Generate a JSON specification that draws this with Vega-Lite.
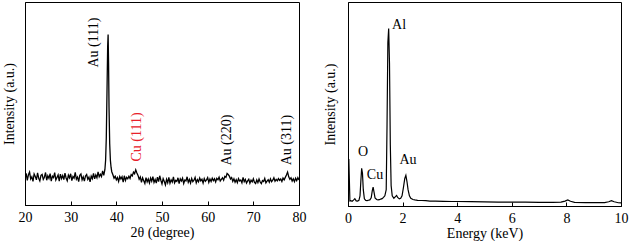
{
  "$schema": "https://vega.github.io/schema/vega-lite/v6.json",
  "padding": {"left": 1, "top": 1, "right": 0, "bottom": 0},
  "background": "white",
  "config": {
    "font": "Liberation Serif, Times New Roman, serif",
    "view": {"stroke": "black", "strokeWidth": 1},
    "axis": {"domainColor": "black", "tickColor": "black", "labelColor": "black", "titleColor": "black", "labelFont": "Liberation Serif, Times New Roman, serif", "titleFont": "Liberation Serif, Times New Roman, serif", "titleFontWeight": "normal", "labelFontSize": 14, "titleFontSize": 14, "grid": false}
  },
  "spacing": 15,
  "hconcat": [
    {
      "width": 274,
      "height": 203,
      "layer": [
        {
          "data": {"values": [
            {"x":20.00,"y":13.8},{"x":20.25,"y":15.6},{"x":20.50,"y":12.1},{"x":20.75,"y":14.9},{"x":21.00,"y":16.2},{"x":21.25,"y":12.8},{"x":21.50,"y":13.9},{"x":21.75,"y":11.6},{"x":22.00,"y":15.3},{"x":22.25,"y":14.1},{"x":22.50,"y":12.4},{"x":22.75,"y":15.8},{"x":23.00,"y":13.2},{"x":23.25,"y":11.9},{"x":23.50,"y":14.6},{"x":23.75,"y":15.1},{"x":24.00,"y":12.6},{"x":24.25,"y":13.7},{"x":24.50,"y":16.0},{"x":24.75,"y":12.2},{"x":25.00,"y":14.4},{"x":25.25,"y":13.1},{"x":25.50,"y":15.5},{"x":25.75,"y":11.8},{"x":26.00,"y":14.2},{"x":26.25,"y":13.5},{"x":26.50,"y":15.9},{"x":26.75,"y":12.3},{"x":27.00,"y":13.6},{"x":27.25,"y":14.8},{"x":27.50,"y":11.7},{"x":27.75,"y":15.2},{"x":28.00,"y":13.0},{"x":28.25,"y":14.5},{"x":28.50,"y":12.5},{"x":28.75,"y":15.7},{"x":29.00,"y":13.3},{"x":29.25,"y":11.9},{"x":29.50,"y":14.7},{"x":29.75,"y":13.4},{"x":30.00,"y":15.4},{"x":30.25,"y":12.0},{"x":30.50,"y":14.0},{"x":30.75,"y":13.2},{"x":31.00,"y":16.1},{"x":31.25,"y":12.7},{"x":31.50,"y":13.8},{"x":31.75,"y":11.5},{"x":32.00,"y":14.6},{"x":32.25,"y":15.3},{"x":32.50,"y":12.4},{"x":32.75,"y":13.9},{"x":33.00,"y":11.8},{"x":33.25,"y":14.3},{"x":33.50,"y":15.0},{"x":33.75,"y":12.6},{"x":34.00,"y":13.7},{"x":34.25,"y":11.4},{"x":34.50,"y":14.2},{"x":34.75,"y":13.0},{"x":35.00,"y":15.6},{"x":35.25,"y":12.9},{"x":35.50,"y":14.8},{"x":35.75,"y":13.4},{"x":36.00,"y":16.3},{"x":36.25,"y":13.9},{"x":36.50,"y":15.1},{"x":36.75,"y":14.0},{"x":37.00,"y":16.8},{"x":37.25,"y":14.6},{"x":37.50,"y":17.5},{"x":37.65,"y":22},{"x":37.80,"y":33},{"x":37.95,"y":55},{"x":38.10,"y":78},{"x":38.20,"y":84},{"x":38.30,"y":70},{"x":38.40,"y":48},{"x":38.55,"y":30},{"x":38.70,"y":22},{"x":38.85,"y":18.5},{"x":39.00,"y":16.4},{"x":39.25,"y":14.9},{"x":39.50,"y":13.2},{"x":39.75,"y":14.1},{"x":40.00,"y":12.4},{"x":40.25,"y":13.5},{"x":40.50,"y":11.6},{"x":40.75,"y":14.0},{"x":41.00,"y":12.8},{"x":41.25,"y":13.9},{"x":41.50,"y":11.3},{"x":41.75,"y":14.4},{"x":42.00,"y":12.1},{"x":42.25,"y":13.6},{"x":42.50,"y":12.9},{"x":42.75,"y":14.2},{"x":43.00,"y":13.1},{"x":43.25,"y":15.0},{"x":43.50,"y":14.3},{"x":43.75,"y":16.2},{"x":44.00,"y":15.4},{"x":44.25,"y":17.3},{"x":44.50,"y":15.8},{"x":44.75,"y":14.6},{"x":45.00,"y":12.7},{"x":45.25,"y":13.8},{"x":45.50,"y":11.2},{"x":45.75,"y":13.4},{"x":46.00,"y":12.0},{"x":46.25,"y":10.6},{"x":46.50,"y":13.5},{"x":46.75,"y":11.4},{"x":47.00,"y":12.8},{"x":47.25,"y":10.9},{"x":47.50,"y":13.3},{"x":47.75,"y":11.7},{"x":48.00,"y":14.0},{"x":48.25,"y":11.1},{"x":48.50,"y":12.6},{"x":48.75,"y":10.8},{"x":49.00,"y":13.7},{"x":49.25,"y":11.5},{"x":49.50,"y":14.4},{"x":49.75,"y":12.2},{"x":50.00,"y":10.4},{"x":50.25,"y":13.0},{"x":50.50,"y":11.6},{"x":50.75,"y":9.9},{"x":51.00,"y":12.7},{"x":51.25,"y":11.0},{"x":51.50,"y":13.6},{"x":51.75,"y":10.7},{"x":52.00,"y":12.4},{"x":52.25,"y":11.3},{"x":52.50,"y":13.8},{"x":52.75,"y":10.9},{"x":53.00,"y":12.1},{"x":53.25,"y":11.6},{"x":53.50,"y":13.4},{"x":53.75,"y":10.5},{"x":54.00,"y":12.9},{"x":54.25,"y":11.8},{"x":54.50,"y":13.2},{"x":54.75,"y":10.6},{"x":55.00,"y":12.3},{"x":55.25,"y":11.9},{"x":55.50,"y":13.9},{"x":55.75,"y":11.2},{"x":56.00,"y":12.6},{"x":56.25,"y":10.8},{"x":56.50,"y":13.1},{"x":56.75,"y":11.5},{"x":57.00,"y":12.2},{"x":57.25,"y":13.6},{"x":57.50,"y":10.9},{"x":57.75,"y":12.5},{"x":58.00,"y":11.4},{"x":58.25,"y":13.3},{"x":58.50,"y":11.9},{"x":58.75,"y":12.7},{"x":59.00,"y":10.8},{"x":59.25,"y":13.0},{"x":59.50,"y":11.7},{"x":59.75,"y":12.4},{"x":60.00,"y":13.5},{"x":60.25,"y":11.1},{"x":60.50,"y":12.8},{"x":60.75,"y":11.6},{"x":61.00,"y":13.2},{"x":61.25,"y":12.0},{"x":61.50,"y":12.9},{"x":61.75,"y":11.3},{"x":62.00,"y":13.1},{"x":62.25,"y":12.4},{"x":62.50,"y":13.7},{"x":62.75,"y":11.8},{"x":63.00,"y":12.6},{"x":63.25,"y":13.4},{"x":63.50,"y":12.2},{"x":63.75,"y":14.1},{"x":64.00,"y":13.6},{"x":64.25,"y":15.5},{"x":64.50,"y":15.0},{"x":64.75,"y":14.2},{"x":65.00,"y":12.8},{"x":65.25,"y":13.5},{"x":65.50,"y":11.6},{"x":65.75,"y":12.9},{"x":66.00,"y":11.2},{"x":66.25,"y":12.5},{"x":66.50,"y":11.0},{"x":66.75,"y":13.0},{"x":67.00,"y":11.8},{"x":67.25,"y":12.3},{"x":67.50,"y":10.9},{"x":67.75,"y":13.6},{"x":68.00,"y":11.5},{"x":68.25,"y":12.6},{"x":68.50,"y":10.8},{"x":68.75,"y":11.9},{"x":69.00,"y":12.7},{"x":69.25,"y":10.7},{"x":69.50,"y":12.2},{"x":69.75,"y":11.4},{"x":70.00,"y":12.9},{"x":70.25,"y":11.1},{"x":70.50,"y":10.6},{"x":70.75,"y":12.4},{"x":71.00,"y":11.0},{"x":71.25,"y":12.8},{"x":71.50,"y":11.3},{"x":71.75,"y":10.5},{"x":72.00,"y":12.0},{"x":72.25,"y":11.6},{"x":72.50,"y":13.1},{"x":72.75,"y":10.9},{"x":73.00,"y":11.8},{"x":73.25,"y":12.5},{"x":73.50,"y":11.2},{"x":73.75,"y":12.9},{"x":74.00,"y":11.5},{"x":74.25,"y":12.2},{"x":74.50,"y":13.4},{"x":74.75,"y":11.7},{"x":75.00,"y":12.6},{"x":75.25,"y":11.9},{"x":75.50,"y":13.0},{"x":75.75,"y":12.1},{"x":76.00,"y":12.8},{"x":76.25,"y":11.6},{"x":76.50,"y":13.3},{"x":76.75,"y":12.4},{"x":77.00,"y":13.6},{"x":77.25,"y":14.8},{"x":77.50,"y":16.2},{"x":77.75,"y":13.9},{"x":78.00,"y":12.7},{"x":78.25,"y":13.4},{"x":78.50,"y":11.8},{"x":78.75,"y":12.9},{"x":79.00,"y":11.5},{"x":79.25,"y":13.2},{"x":79.50,"y":12.0},{"x":79.75,"y":13.5},{"x":80.00,"y":12.3}
          ]},
          "mark": {"type": "line", "color": "black", "strokeWidth": 1.3, "clip": true},
          "encoding": {
            "x": {"field": "x", "type": "quantitative", "scale": {"domain": [20, 80], "nice": false, "zero": false},
              "axis": {"title": "2θ (degree)", "titleFontWeight": "normal", "values": [20,25,30,35,40,45,50,55,60,65,70,75,80], "labelExpr": "datum.value % 10 === 0 ? datum.label : ''",
                "tickSize": {"condition": {"test": "datum.value % 10 === 0", "value": -4}, "value": -2}, "labelPadding": 9, "titlePadding": 1, "labelFlush": false}},
            "y": {"field": "y", "type": "quantitative", "scale": {"domain": [0, 100], "nice": false},
              "axis": {"title": "Intensity (a.u.)", "titleFontWeight": "normal", "labels": false, "ticks": false, "titlePadding": 9}}
          }
        },
        {
          "data": {"values": [
            {"x": 35.1, "y": 80, "t": "Au (111)", "el": "Au"},
            {"x": 44.5, "y": 33.5, "t": "Cu (111)", "el": "Cu"},
            {"x": 64.2, "y": 32, "t": "Au (220)", "el": "Au"},
            {"x": 77.4, "y": 32, "t": "Au (311)", "el": "Au"}
          ]},
          "mark": {"type": "text", "angle": 270, "fontSize": 14, "font": "Liberation Serif, Times New Roman, serif", "align": "center", "baseline": "middle"},
          "encoding": {
            "x": {"field": "x", "type": "quantitative"},
            "y": {"field": "y", "type": "quantitative"},
            "text": {"field": "t"},
            "color": {"field": "el", "type": "nominal", "scale": {"domain": ["Au", "Cu"], "range": ["black", "#e8202a"]}, "legend": null}
          }
        }
      ]
    },
    {
      "width": 273,
      "height": 204,
      "layer": [
        {
          "data": {"values": [
            {"e":0.00,"c":2.0},{"e":0.03,"c":23},{"e":0.07,"c":2.5},{"e":0.10,"c":2.6},{"e":0.15,"c":2.3},{"e":0.20,"c":2.9},{"e":0.25,"c":3.6},{"e":0.30,"c":2.5},{"e":0.35,"c":2.4},{"e":0.40,"c":2.8},{"e":0.44,"c":5},{"e":0.47,"c":12},{"e":0.50,"c":18.5},{"e":0.53,"c":16},{"e":0.56,"c":8},{"e":0.60,"c":3.5},{"e":0.65,"c":2.7},{"e":0.70,"c":2.6},{"e":0.75,"c":2.8},{"e":0.80,"c":3.0},{"e":0.85,"c":4.0},{"e":0.89,"c":7.5},{"e":0.92,"c":9.2},{"e":0.95,"c":7},{"e":0.99,"c":4},{"e":1.05,"c":3.2},{"e":1.10,"c":3.0},{"e":1.15,"c":3.1},{"e":1.20,"c":3.4},{"e":1.25,"c":3.6},{"e":1.30,"c":4.2},{"e":1.35,"c":5},{"e":1.40,"c":8},{"e":1.43,"c":40},{"e":1.46,"c":80},{"e":1.49,"c":87},{"e":1.52,"c":70},{"e":1.55,"c":30},{"e":1.58,"c":10},{"e":1.62,"c":5},{"e":1.68,"c":3.8},{"e":1.73,"c":4.5},{"e":1.78,"c":5.2},{"e":1.82,"c":4.2},{"e":1.88,"c":3.5},{"e":1.93,"c":3.8},{"e":1.98,"c":5},{"e":2.03,"c":9},{"e":2.08,"c":13.5},{"e":2.12,"c":15},{"e":2.16,"c":12},{"e":2.20,"c":8},{"e":2.25,"c":5},{"e":2.30,"c":3.8},{"e":2.38,"c":3.2},{"e":2.45,"c":3.0},{"e":2.55,"c":2.8},{"e":2.70,"c":2.7},{"e":2.85,"c":2.6},{"e":3.0,"c":2.4},{"e":3.2,"c":2.4},{"e":3.5,"c":2.3},{"e":3.8,"c":2.2},{"e":4.0,"c":2.2},{"e":4.5,"c":2.1},{"e":5.0,"c":2.0},{"e":5.5,"c":1.9},{"e":6.0,"c":1.9},{"e":6.5,"c":1.9},{"e":7.0,"c":1.8},{"e":7.5,"c":1.8},{"e":7.8,"c":1.9},{"e":7.95,"c":2.4},{"e":8.05,"c":3.0},{"e":8.15,"c":2.3},{"e":8.3,"c":1.8},{"e":8.7,"c":1.7},{"e":9.0,"c":1.7},{"e":9.4,"c":1.7},{"e":9.55,"c":2.1},{"e":9.65,"c":2.6},{"e":9.75,"c":2.1},{"e":9.9,"c":1.6},{"e":10.0,"c":1.5}
          ]},
          "mark": {"type": "line", "color": "black", "strokeWidth": 1.2, "clip": true},
          "encoding": {
            "x": {"field": "e", "type": "quantitative", "scale": {"domain": [0, 10], "nice": false},
              "axis": {"title": "Energy (keV)", "titleFontWeight": "normal", "values": [0,1,2,3,4,5,6,7,8,9,10], "labelExpr": "datum.value % 2 === 0 ? datum.label : ''",
                "tickSize": {"condition": {"test": "datum.value % 2 === 0", "value": -4}, "value": -2}, "labelPadding": 9, "titlePadding": 1, "labelFlush": false}},
            "y": {"field": "c", "type": "quantitative", "scale": {"domain": [0, 100], "nice": false},
              "axis": {"title": "Intensity (a.u.)", "titleFontWeight": "normal", "labels": false, "ticks": false, "titlePadding": 11}}
          }
        },
        {
          "data": {"values": [
            {"e": 1.87, "c": 88.7, "t": "Al"},
            {"e": 0.55, "c": 26.5, "t": "O"},
            {"e": 0.99, "c": 15.2, "t": "Cu"},
            {"e": 2.2, "c": 22.5, "t": "Au"}
          ]},
          "mark": {"type": "text", "fontSize": 14, "font": "Liberation Serif, Times New Roman, serif", "align": "center", "baseline": "middle", "color": "black"},
          "encoding": {
            "x": {"field": "e", "type": "quantitative"},
            "y": {"field": "c", "type": "quantitative"},
            "text": {"field": "t"}
          }
        }
      ]
    }
  ]
}
